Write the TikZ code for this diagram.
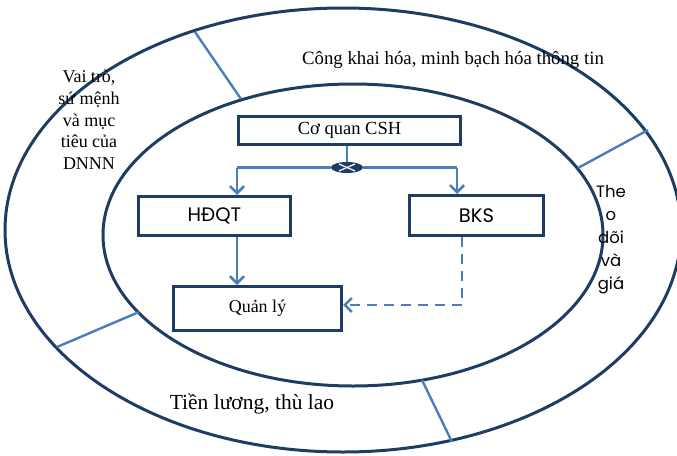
\documentclass[tikz,border=0pt]{standalone}
\usepackage{fontspec}
\setmainfont{Liberation Serif}
\newfontfamily\gothic{Poppins}
\usetikzlibrary{arrows.meta,shapes.geometric}
\definecolor{navy}{RGB}{31,61,100}
\definecolor{lblue}{RGB}{74,126,187}
\begin{document}
\begin{tikzpicture}[x=1pt,y=-1pt,
  ring/.style={draw=navy,line width=3pt},
  divider/.style={draw=lblue,line width=2.4pt},
  box/.style={draw=navy,line width=3pt,inner sep=0pt},
  conn/.style={draw=lblue,line width=2.6pt,>={Straight Barb[length=7pt,width=14pt]}},
  lbl/.style={inner sep=0pt,align=center},
]
\useasboundingbox (0,0) rectangle (677,455);
% rings
\draw[ring] (343,230) ellipse [x radius=338, y radius=222];
\draw[ring] (353,235) ellipse [x radius=250, y radius=151];
% dividers
\coordinate (d1o) at (195,32);  \coordinate (d1i) at (241,99);
\coordinate (d2o) at (648,130); \coordinate (d2i) at (578,168);
\coordinate (d3o) at (57,347);  \coordinate (d3i) at (139,312);
\coordinate (d4o) at (452,442); \coordinate (d4i) at (422,380);
\draw[divider] (d1o) -- (d1i);
\draw[divider] (d2o) -- (d2i);
\draw[divider] (d3o) -- (d3i);
\draw[divider] (d4o) -- (d4i);
% ring labels
\node[lbl,font=\fontsize{18.8}{22}\selectfont] (pub) at (453,60) {Công khai hóa, minh bạch hóa thông tin};
\node[lbl,font=\fontsize{18}{21.7}\selectfont] (role) at (89,120) {Vai trò,\\sứ mệnh\\và mục\\tiêu của\\DNNN};
\node[lbl,font=\gothic\fontsize{16.5}{23}\selectfont] (mon) at (611,240) {The\\o\\dõi\\và\\giá};
\node[lbl,font=\fontsize{21.5}{24}\selectfont] (pay) at (252,404) {Tiền lương, thù lao};
% boxes
\node[box,minimum width=222pt,minimum height=28pt,font=\fontsize{18.5}{20}\selectfont] (csh) at (349.5,130.5) {Cơ quan CSH};
\node[box,minimum width=152pt,minimum height=39pt,font=\gothic\fontsize{19.5}{20}\selectfont] (hdqt) at (214.5,216) {HĐQT};
\node[box,minimum width=134pt,minimum height=40pt,font=\gothic\fontsize{19.5}{20}\selectfont] (bks) at (476.5,215.5) {BKS};
\node[box,minimum width=168pt,minimum height=44pt,font=\fontsize{18}{20}\selectfont] (ql) at (257.5,308.5) {\raisebox{2pt}{Quản lý}};
% junction
\node[ellipse,fill=navy,minimum width=32pt,minimum height=11pt,inner sep=0pt] (jn) at (347,167.5) {};
\coordinate (jl) at (237,167.5);
\coordinate (jr) at (457,167.5);
\draw[conn] (csh.south -| jn) -- (jn.north);
\draw[conn] (jn.west) -- (jl);
\draw[conn] (jn.east) -- (jr);
\draw[conn,->] (jl) -- (jl |- hdqt.north);
\draw[conn,->] (jr) -- (jr |- bks.north);
\draw[white,line width=1.2pt] (jn.center) ++(-8,-3.5) -- ++(16,7);
\draw[white,line width=1.2pt] (jn.center) ++(-8,3.5) -- ++(16,-7);
% lower connectors
\draw[conn,->] (jl |- hdqt.south) -- (jl |- ql.north);
\coordinate (bd) at (462,305);
\draw[conn,->,dash pattern=on 10pt off 7pt] (bd |- bks.south) -- (bd) -- (ql.east |- bd);
\end{tikzpicture}
\end{document}
